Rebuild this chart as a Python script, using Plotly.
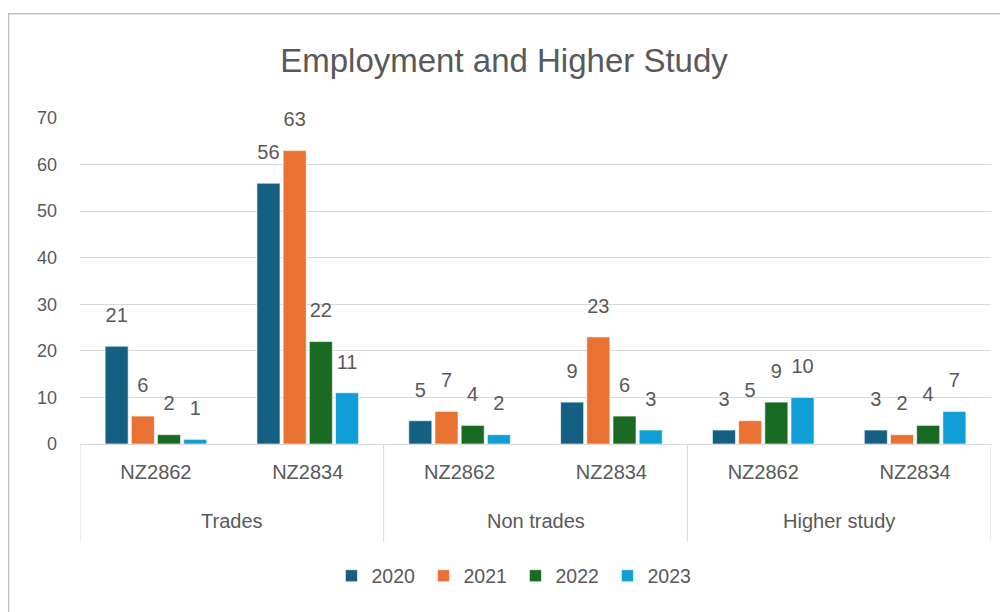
import plotly.graph_objects as go

groups = ["Trades", "Non trades", "Higher study"]
codes = ["NZ2862", "NZ2834", "NZ2862", "NZ2834", "NZ2862", "NZ2834"]
years = ["2020", "2021", "2022", "2023"]
v2020 = [21, 56, 5, 9, 3, 3]
v2021 = [6, 63, 7, 23, 5, 2]
v2022 = [2, 22, 4, 6, 9, 4]
v2023 = [1, 11, 2, 3, 10, 7]
series = [v2020, v2021, v2022, v2023]
colors = ["#156082", "#E97132", "#196B24", "#0F9ED5"]

FONT = "Liberation Sans, Arial, sans-serif"
GREY = "#595959"
LINE = "#D9D9D9"

xpos = list(range(len(codes)))
per_group = len(codes) // len(groups)

fig = go.Figure()
for name, vals, col in zip(years, series, colors):
    fig.add_trace(go.Bar(
        x=xpos, y=vals, name=name,
        marker=dict(color=col, line=dict(color="rgba(255,255,255,0.6)", width=1)),
        texttemplate="<span style='font-size:20px'>%{y}</span><br> ",
        textposition="outside",
        textfont=dict(family=FONT, size=14, color=GREY),
        cliponaxis=False,
        constraintext="none",
    ))

# group labels and dividers for the two-level category axis
for gi, g in enumerate(groups):
    centre = gi * per_group + (per_group - 1) / 2
    fig.add_annotation(x=centre, xref="x", y=-0.237, yref="paper", text=g,
                       showarrow=False, yanchor="middle",
                       font=dict(family=FONT, size=20, color=GREY))
for k in range(len(groups) + 1):
    xd = k * per_group - 0.5
    fig.add_shape(type="line", xref="x", yref="paper", x0=xd, x1=xd, y0=0, y1=-0.301,
                  line=dict(color=LINE, width=1))

fig.update_layout(
    width=1000, height=604,
    margin=dict(l=72, r=17, t=109.5, b=167.5),
    paper_bgcolor="white", plot_bgcolor="white",
    font=dict(family=FONT, color=GREY),
    title=dict(text="Employment and Higher Study", x=0.496, xref="container", xanchor="center",
               y=1 - 52 / 604, yanchor="middle", yref="container",
               font=dict(family=FONT, size=33, color=GREY)),
    barmode="group", bargap=0.31, bargroupgap=0.12,
    showlegend=True,
    legend=dict(orientation="h", x=0.478, xanchor="center", y=-0.405, yanchor="middle",
                font=dict(family=FONT, size=19.5, color=GREY), traceorder="normal",
                entrywidth=47, entrywidthmode="pixels"),
    xaxis=dict(range=[-0.5, len(codes) - 0.5], tickvals=xpos, ticktext=codes,
               showline=True, linecolor=LINE, linewidth=1, ticks="",
               ticklabelstandoff=10,
               tickfont=dict(family=FONT, size=20, color=GREY), showgrid=False, zeroline=False),
    yaxis=dict(range=[0, 70], dtick=10, showgrid=True, gridcolor=LINE, gridwidth=1,
               zeroline=False, ticklabelstandoff=22,
               tickfont=dict(family=FONT, size=18, color=GREY)),
)

fig.add_shape(type="rect", xref="paper", yref="paper",
              x0=-0.0785, x1=1.05, y0=-0.6, y1=1.3196,
              line=dict(color="#BFBFBF", width=1.5), fillcolor="rgba(0,0,0,0)", layer="below")

fig.write_html("out.html")
